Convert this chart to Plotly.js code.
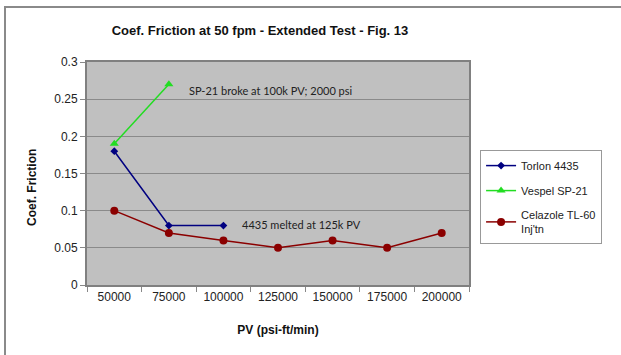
<!DOCTYPE html>
<html><head><meta charset="utf-8">
<script src="https://cdn.plot.ly/plotly-3.0.1.min.js"></script>
<style>
html,body{margin:0;padding:0;background:#fff;}
#chart{position:absolute;left:0;top:0;width:621px;height:355px;}
#frame{position:absolute;left:4px;top:6px;width:630px;height:360px;border-left:2px solid #8a8a8a;border-top:2px solid #8a8a8a;pointer-events:none;}
</style></head>
<body>
<div id="chart"></div>
<div id="frame"></div>
<script>
const categories = ['50000','75000','100000','125000','150000','175000','200000'];
const torlonX = ['50000','75000','100000'];
const torlonY = [0.18, 0.08, 0.08];
const vespelX = ['50000','75000'];
const vespelY = [0.19, 0.27];
const celazoleX = categories;
const celazoleY = [0.10, 0.07, 0.06, 0.05, 0.06, 0.05, 0.07];
const yTicks = [0, 0.05, 0.1, 0.15, 0.2, 0.25, 0.3];
const yTickText = ['0','0.05','0.1','0.15','0.2','0.25','0.3'];

const traces = [
  {x: torlonX, y: torlonY, name: 'Torlon 4435', mode: 'lines+markers', legendgroup: 'a',
   line: {color: '#000080', width: 1.5}, marker: {symbol: 'diamond', size: 6, color: '#000080'}},
  {x: vespelX, y: vespelY, name: 'Vespel SP-21', mode: 'lines+markers', legendgroup: 'b',
   line: {color: '#22dd22', width: 1.5}, marker: {symbol: 'triangle-up', size: 8, color: '#22dd22'}},
  {x: celazoleX, y: celazoleY, name: "Celazole TL-60<br>Inj'tn", mode: 'lines+markers', legendgroup: 'c',
   line: {color: '#8b0000', width: 1.5}, marker: {symbol: 'circle', size: 8, color: '#8b0000'}}
];

const layout = {
  width: 621, height: 355,
  margin: {l: 87, r: 152, t: 62, b: 70},
  paper_bgcolor: '#ffffff',
  plot_bgcolor: '#c0c0c0',
  font: {family: 'Arial, Liberation Sans, sans-serif', size: 12, color: '#222'},
  title: {text: '<b>Coef. Friction at 50 fpm - Extended Test - Fig. 13</b>',
          font: {family: 'Arial, Liberation Sans, sans-serif', size: 13, color: '#111'},
          x: 260 / 621, xanchor: 'center', xref: 'container', y: 0.915, yanchor: 'middle'},
  xaxis: {type: 'category', categoryorder: 'array', categoryarray: categories,
          range: [-0.5, 6.5], tickson: 'boundaries', ticks: 'outside', ticklen: 5,
          tickcolor: '#888', showline: true, linecolor: '#808080', linewidth: 2, mirror: true,
          showgrid: false, zeroline: false, fixedrange: true,
          tickfont: {size: 12, color: '#222'},
          title: {text: '<b>PV (psi-ft/min)</b>', font: {size: 12, color: '#111'}, standoff: 22}},
  yaxis: {range: [0, 0.3], tickvals: yTicks, ticktext: yTickText, ticks: 'outside', ticklen: 5,
          tickcolor: '#888', showline: true, linecolor: '#808080', linewidth: 2, mirror: true,
          showgrid: true, gridcolor: '#8a8a8a', gridwidth: 1, zeroline: false,
          tickfont: {size: 12, color: '#222'}, fixedrange: true},
  showlegend: true,
  legend: {x: 1.029, xanchor: 'left', y: 0.605, yanchor: 'top', traceorder: 'grouped',
           tracegroupgap: 6, bgcolor: '#ffffff', bordercolor: '#999', borderwidth: 1,
           font: {size: 11, color: '#222'}},
  annotations: [
    {text: '<b>Coef. Friction</b>', textangle: -90, xref: 'paper', yref: 'paper',
     x: (32 - 87) / 382, y: (285 - 187) / 223, xanchor: 'center', yanchor: 'middle', showarrow: false,
     font: {size: 12, color: '#111'}},
    {text: 'SP-21 broke at 100k PV; 2000 psi', xref: 'x', yref: 'y', x: 1.33, y: 0.261,
     xanchor: 'left', yanchor: 'middle', showarrow: false,
     font: {family: 'Lato, Open Sans, sans-serif', size: 11, color: '#222'}},
    {text: '4435 melted at 125k PV', xref: 'x', yref: 'y', x: 2.31, y: 0.081,
     xanchor: 'left', yanchor: 'middle', showarrow: false,
     font: {family: 'Lato, Open Sans, sans-serif', size: 11, color: '#222'}}
  ]
};
Plotly.newPlot('chart', traces, layout, {displayModeBar: false, staticPlot: true});
</script>
</body></html>
